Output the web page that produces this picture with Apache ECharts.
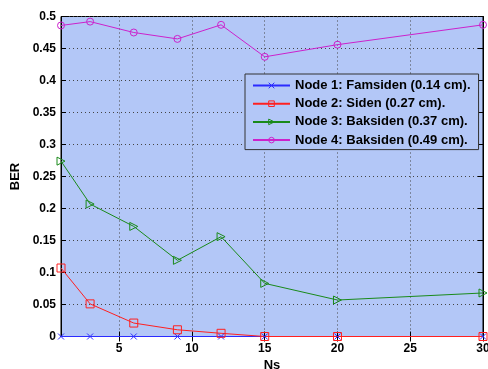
<!DOCTYPE html>
<html><head><meta charset="utf-8">
<script src="https://cdn.jsdelivr.net/npm/echarts@6/dist/echarts.min.js"></script>
<style>html,body{margin:0;padding:0;background:#fff}#c{width:488px;height:369px}</style>
</head><body><div id="c"></div>
<script>
const ns = [1, 3, 6, 9, 12, 15, 20, 30];
const node1 = [0, 0, 0, 0, 0, 0, 0, 0];
const node2 = [0.107, 0.051, 0.021, 0.0105, 0.005, 0, 0, 0];
const node3 = [0.274, 0.207, 0.172, 0.119, 0.156, 0.083, 0.057, 0.068];
const node4 = [0.486, 0.492, 0.475, 0.465, 0.487, 0.437, 0.456, 0.487];
const seriesNames = ['Node 1: Famsiden (0.14 cm).', 'Node 2: Siden (0.27 cm).', 'Node 3: Baksiden (0.37 cm).', 'Node 4: Baksiden (0.49 cm).'];
const xTicks = [5, 10, 15, 20, 25, 30];

const pair = v => ns.map((x, i) => [x, v[i]]);
const font = 'Liberation Sans, Arial, sans-serif';
const chart = echarts.init(document.getElementById('c'), null, {renderer: 'canvas'});
const lbl = {color: '#000', fontWeight: 'bold', fontSize: 12, fontFamily: font};
const grid = {left: 61, right: 5, top: 16.5, bottom: 32.5, show: true, backgroundColor: '#b3c7f7', borderColor: '#000', borderWidth: 1, containLabel: false, outerBoundsMode: 'none'};
const mk = (name, data, color, symbol, extra) => Object.assign({
  name, type: 'line', data: pair(data), symbol, symbolSize: 7,
  lineStyle: {color, width: 1}, itemStyle: {color: 'rgba(0,0,0,0)', borderColor: color, borderWidth: 1},
  animation: false, z: 3
}, extra || {});
chart.setOption({
  animation: false,
  grid,
  xAxis: [{
    type: 'value', min: 1, max: 30, position: 'bottom',
    name: 'Ns', nameLocation: 'middle', nameGap: 22,
    nameTextStyle: {color: '#000', fontWeight: 'bold', fontSize: 13, fontFamily: font},
    axisLine: {show: true, lineStyle: {color: '#000', width: 1}},
    axisTick: {show: true, inside: true, length: 5, customValues: xTicks, lineStyle: {color: '#000'}},
    axisLabel: Object.assign({customValues: xTicks, margin: 6}, lbl),
    splitLine: {show: true, lineStyle: {color: '#444', type: [1, 3], width: 1}}
  }, {
    type: 'value', min: 1, max: 30, position: 'top',
    axisLine: {show: true, lineStyle: {color: '#000'}},
    axisTick: {show: true, inside: true, length: 5, customValues: xTicks, lineStyle: {color: '#000'}},
    axisLabel: {show: false}, splitLine: {show: false}
  }],
  yAxis: [{
    type: 'value', min: 0, max: 0.5, interval: 0.05, position: 'left',
    name: 'BER', nameLocation: 'middle', nameGap: 36, nameRotate: 90,
    nameTextStyle: {color: '#000', fontWeight: 'bold', fontSize: 13, fontFamily: font},
    axisLine: {show: true, lineStyle: {color: '#000', width: 1}},
    axisTick: {show: true, inside: true, length: 5, lineStyle: {color: '#000'}},
    axisLabel: Object.assign({margin: 5, formatter: v => String(Math.round(v * 100) / 100)}, lbl),
    splitLine: {show: true, lineStyle: {color: '#444', type: [1, 3], width: 1}}
  }, {
    type: 'value', min: 0, max: 0.5, interval: 0.05, position: 'right',
    axisLine: {show: true, lineStyle: {color: '#000'}},
    axisTick: {show: true, inside: true, length: 5, lineStyle: {color: '#000'}},
    axisLabel: {show: false}, splitLine: {show: false}
  }],
  legend: {
    left: 245, top: 74, orient: 'vertical', width: 237,
    backgroundColor: '#b3c7f7', borderColor: '#333', borderWidth: 1,
    padding: [5, 8, 3, 7], itemGap: 5.2, itemWidth: 37, itemHeight: 7,
    itemStyle: {color: 'rgba(0,0,0,0)', borderWidth: 1},
    textStyle: {color: '#000', fontWeight: 'bold', fontSize: 13, fontFamily: font},
    data: seriesNames
  },
  series: [
    mk(seriesNames[0], node1, '#2b2bff', 'path://M0,0L10,10M10,0L0,10', {symbolSize: 6}),
    mk(seriesNames[1], node2, '#ff2020', 'rect', {symbolSize: 8}),
    mk(seriesNames[2], node3, '#1a8a1a', 'triangle', {symbolRotate: -90, symbolSize: 8}),
    mk(seriesNames[3], node4, '#cc22cc', 'circle', {symbolSize: 7})
  ]
});
</script></body></html>
